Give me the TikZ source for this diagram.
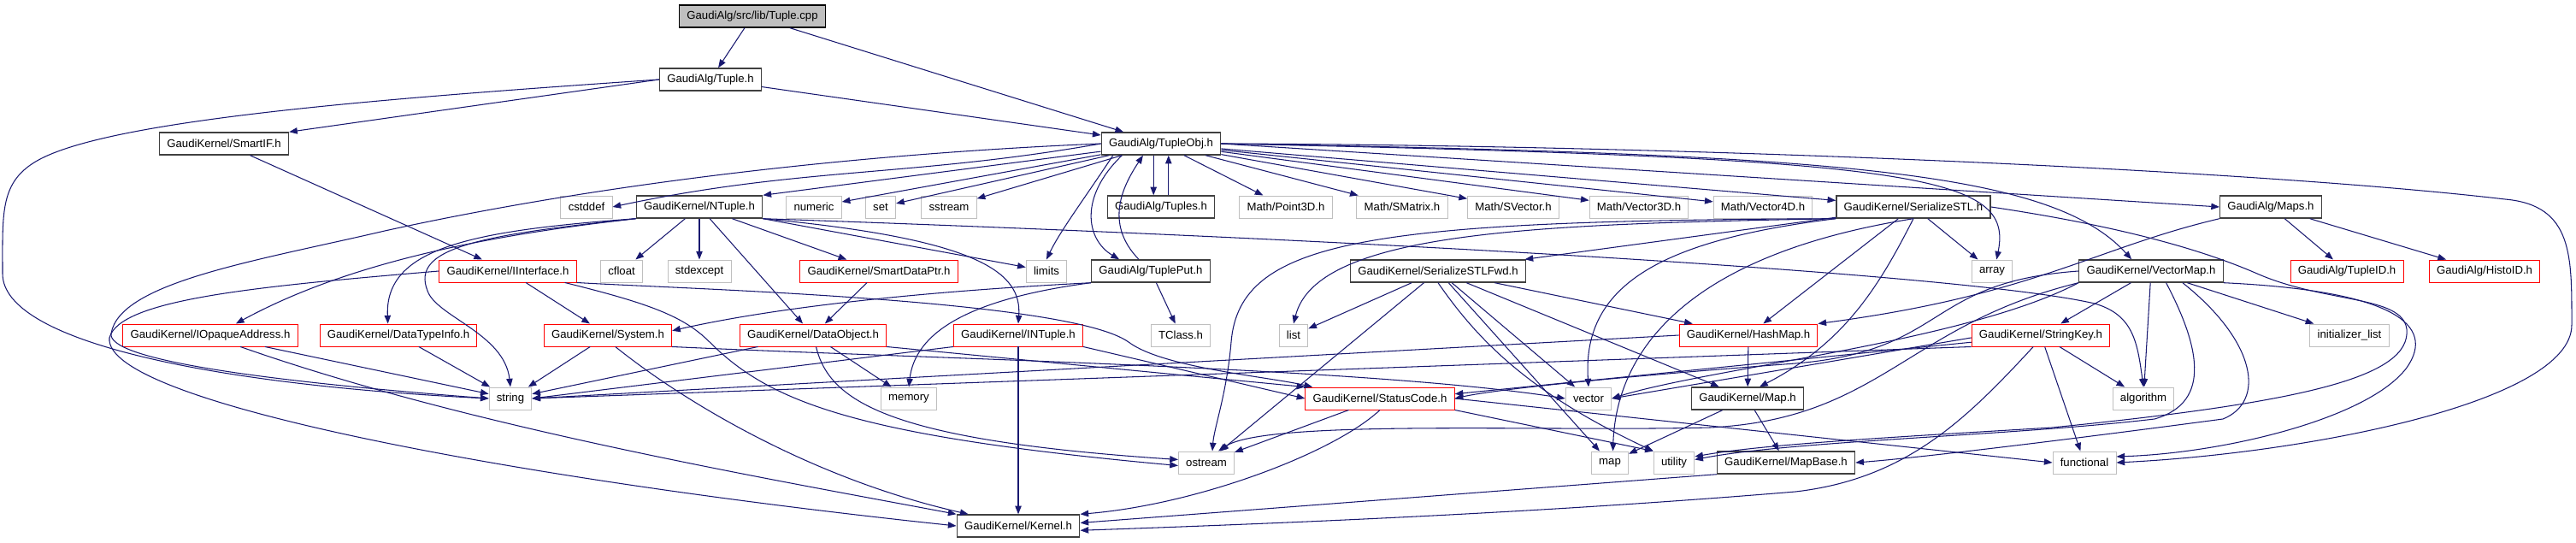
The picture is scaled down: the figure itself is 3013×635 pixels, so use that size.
\documentclass[tikz,border=0pt]{standalone}
\usepackage{fontspec}
\setmainfont{Liberation Sans}
\usetikzlibrary{arrows.meta}
\definecolor{edgeblue}{HTML}{191970}
\definecolor{boxgray}{HTML}{BFBFBF}
\definecolor{boxline}{HTML}{404040}
\begin{document}
\begin{tikzpicture}[x=0.02cm,y=-0.02cm,
    every node/.style={font=\fontsize{7.5}{8}\selectfont, minimum height=0.52cm, inner xsep=5pt, inner ysep=0pt, line width=0.55pt},
    doc/.style={draw=boxline, fill=white, line width=0.8pt},
    sys/.style={draw=boxgray, fill=white},
    trunc/.style={draw=red, fill=white},
    root/.style={draw=black, fill=boxgray, line width=0.8pt},
    dep/.style={draw=edgeblue, line width=0.6pt, -{Triangle[length=5.5pt,width=4.2pt]}}]
    \useasboundingbox (0,0) rectangle (3013,635);
    % rows of headers
    \node[root] (cpp) at (880,19) {GaudiAlg/src/lib/Tuple.cpp};
    \node[doc] (tupleh) at (831,93) {GaudiAlg/Tuple.h};
    \node[doc] (smartif) at (262,168) {GaudiKernel/SmartIF.h};
    \node[doc] (tupleobj) at (1358,168) {GaudiAlg/TupleObj.h};
    \node[sys] (cstddef) at (686,242) {cstddef};
    \node[doc] (ntuple) at (818,242) {GaudiKernel/NTuple.h};
    \node[sys] (numeric) at (952,242) {numeric};
    \node[sys] (set) at (1030,242) {set};
    \node[sys] (sstream) at (1110,242) {sstream};
    \node[doc] (tuples) at (1358,242) {GaudiAlg/Tuples.h};
    \node[sys] (point3d) at (1504,242) {Math/Point3D.h};
    \node[sys] (smatrix) at (1640,242) {Math/SMatrix.h};
    \node[sys] (svector) at (1770,242) {Math/SVector.h};
    \node[sys] (vector3d) at (1917,242) {Math/Vector3D.h};
    \node[sys] (vector4d) at (2062,242) {Math/Vector4D.h};
    \node[doc] (serstl) at (2238,242) {GaudiKernel/SerializeSTL.h};
    \node[doc] (maps) at (2656,242) {GaudiAlg/Maps.h};
    \node[trunc] (iface) at (594,317) {GaudiKernel/IInterface.h};
    \node[sys] (cfloat) at (727,317) {cfloat};
    \node[sys] (stdexcept) at (818,317) {stdexcept};
    \node[trunc] (smartptr) at (1028,317) {GaudiKernel/SmartDataPtr.h};
    \node[sys] (limits) at (1224,317) {limits};
    \node[doc] (tupleput) at (1346,317) {GaudiAlg/TuplePut.h};
    \node[doc] (serfwd) at (1682,317) {GaudiKernel/SerializeSTLFwd.h};
    \node[sys] (array) at (2330,317) {array};
    \node[doc] (vecmap) at (2516,317) {GaudiKernel/VectorMap.h};
    \node[trunc] (tupleid) at (2745,317) {GaudiAlg/TupleID.h};
    \node[trunc] (histoid) at (2906,317) {GaudiAlg/HistoID.h};
    \node[trunc] (opaque) at (246,392) {GaudiKernel/IOpaqueAddress.h};
    \node[trunc] (typeinfo) at (466,392) {GaudiKernel/DataTypeInfo.h};
    \node[trunc] (system) at (711,392) {GaudiKernel/System.h};
    \node[trunc] (dataobj) at (951,392) {GaudiKernel/DataObject.h};
    \node[trunc] (intuple) at (1191,392) {GaudiKernel/INTuple.h};
    \node[sys] (tclass) at (1381,392) {TClass.h};
    \node[sys] (list) at (1513,392) {list};
    \node[trunc] (hashmap) at (2045,392) {GaudiKernel/HashMap.h};
    \node[trunc] (strkey) at (2387,392) {GaudiKernel/StringKey.h};
    \node[sys] (initlist) at (2748,392) {initializer\_list};
    \node[sys] (string) at (597,466) {string};
    \node[sys] (memory) at (1063,466) {memory};
    \node[trunc] (status) at (1614,466) {GaudiKernel/StatusCode.h};
    \node[sys] (vector) at (1858,466) {vector};
    \node[doc] (mapx) at (2044,466) {GaudiKernel/Map.h};
    \node[sys] (algorithm) at (2507,466) {algorithm};
    \node[sys] (ostream) at (1411,541) {ostream};
    \node[sys] (map) at (1883,541) {map};
    \node[sys] (utility) at (1958,541) {utility};
    \node[doc] (mapbase) at (2089,541) {GaudiKernel/MapBase.h};
    \node[sys] (functional) at (2438,541) {functional};
    \node[doc] (kernel) at (1191,615) {GaudiKernel/Kernel.h};
    % Tuple.cpp and Tuple.h
    \draw[dep] (cpp) -- (tupleh);
    \draw[dep] (cpp) -- (tupleobj);
    \draw[dep] (tupleh) -- (tupleobj);
    \draw[dep] (tupleh.west) -- (smartif.north east);
    \draw[dep] (tupleh.west) .. controls (450,115) and (120,140) .. (40,190) .. controls (0,215) and (3,250) .. (3,320) .. controls (3,400) and (250,450) .. (string.west);
    \draw[dep] (smartif) -- (iface);
    % TupleObj.h
    \draw[dep] (tupleobj.west) to[out=190,in=12] (cstddef.east);
    \draw[dep] (tupleobj) -- (ntuple.north east);
    \draw[dep] (tupleobj) -- (numeric);
    \draw[dep] (tupleobj) -- (set);
    \draw[dep] (tupleobj) -- (sstream);
    \draw[dep] ([xshift=-5pt]tupleobj.south) -- ([xshift=-5pt]tuples.north);
    \draw[dep] ([xshift=5pt]tuples.north) -- ([xshift=5pt]tupleobj.south);
    \draw[dep] (tupleobj) -- (point3d);
    \draw[dep] (tupleobj) -- (smatrix);
    \draw[dep] (tupleobj) -- (svector);
    \draw[dep] (tupleobj) -- (vector3d);
    \draw[dep] (tupleobj) -- (vector4d);
    \draw[dep] (tupleobj) -- (serstl);
    \draw[dep] (tupleobj.east) -- (maps.west);
    \draw[dep] (tupleobj.east) .. controls (2250,185) and (2355,205) .. ([xshift=3pt]array.north);
    \draw[dep] (tupleobj.east) .. controls (2150,180) and (2400,200) .. ([xshift=-13pt]vecmap.north);
    \draw[dep] ([xshift=-32pt]tupleobj.south) .. controls (1270,230) and (1240,270) .. (limits.north);
    \draw[dep] ([xshift=-26pt]tupleobj.south) .. controls (1262,230) and (1270,280) .. ([xshift=-21pt]tupleput.north);
    \draw[dep] ([xshift=-8pt]tupleput.north) .. controls (1290,260) and (1315,215) .. ([xshift=-12pt]tupleobj.south);
    \draw[dep] (tupleobj.west) .. controls (1000,180) and (700,215) .. (450,270) .. controls (300,305) and (140,330) .. (130,390) .. controls (125,420) and (300,445) .. (string.west);
    \draw[dep] (tupleobj.east) .. controls (2000,170) and (2650,200) .. (2930,233) .. controls (3010,240) and (3008,300) .. (3008,380) .. controls (3008,470) and (2700,530) .. (functional.east);
    % TuplePut.h
    \draw[dep] (tupleput.south west) .. controls (1000,345) and (860,370) .. ([yshift=3pt]system.east);
    \draw[dep] (tupleput.south west) .. controls (1130,350) and (1070,390) .. (memory.north);
    \draw[dep] (tupleput) -- (tclass);
    % NTuple.h
    \draw[dep] (ntuple.south west) .. controls (600,272) and (420,300) .. ([xshift=17pt]opaque.north);
    \draw[dep] (ntuple.south west) .. controls (550,270) and (450,290) .. ([xshift=-7pt]typeinfo.north);
    \draw[dep] (ntuple.south west) .. controls (560,275) and (480,290) .. (500,340) .. controls (510,370) and (590,390) .. (string.north);
    \draw[dep] (ntuple) -- (cfloat);
    \draw[dep] (ntuple) -- (stdexcept);
    \draw[dep] (ntuple) -- (smartptr);
    \draw[dep] (ntuple) -- (dataobj);
    \draw[dep] (ntuple.south east) .. controls (1150,280) and (1195,320) .. (intuple.north);
    \draw[dep] (ntuple.south east) -- (limits);
    \draw[dep] (ntuple.south east) .. controls (1600,280) and (2300,320) .. (2450,355) .. controls (2495,368) and (2500,400) .. (algorithm.north);
    % IInterface.h
    \draw[dep] (iface) -- (system);
    \draw[dep] (iface.south east) .. controls (800,338) and (1250,350) .. (1320,400) .. controls (1360,430) and (1480,440) .. ([xshift=5pt]status.north west);
    \draw[dep] ([xshift=-8pt]iface.south east) .. controls (760,355) and (800,370) .. (830,400) .. controls (900,470) and (1000,510) .. ([yshift=-2pt]ostream.west);
    \draw[dep] (iface.west) .. controls (300,335) and (140,350) .. (128,395) .. controls (120,470) and (600,560) .. (kernel.west);
    % second level
    \draw[dep] (opaque) -- (string);
    \draw[dep] ([xshift=20pt]opaque.south) .. controls (550,500) and (900,560) .. (kernel.north west);
    \draw[dep] (typeinfo) -- (string);
    \draw[dep] (system) -- (string);
    \draw[dep] ([xshift=5pt]system.south) .. controls (800,470) and (950,560) .. ([xshift=8pt]kernel.north west);
    \draw[dep] (system.south east) .. controls (1100,420) and (1600,430) .. (vector.west);
    \draw[dep] (smartptr) -- (dataobj);
    \draw[dep] (dataobj) -- (string);
    \draw[dep] (dataobj) -- (memory);
    \draw[dep] ([xshift=2pt]dataobj.south) .. controls (970,470) and (1040,515) .. ([yshift=2pt]ostream.west);
    \draw[dep] (dataobj.south east) -- (status.north west);
    \draw[dep] (intuple) -- (kernel);
    \draw[dep] (intuple.south west) -- (string.east);
    \draw[dep] (intuple.south east) -- (status.west);
    \draw[dep] (hashmap.west) -- (string.east);
    \draw[dep] (hashmap) -- (mapx);
    % StatusCode.h
    \draw[dep] (status) -- (ostream);
    \draw[dep] (status.south east) -- (utility.north west);
    \draw[dep] (status.east) -- (functional.west);
    \draw[dep] (status.south) .. controls (1560,530) and (1400,590) .. (kernel.north east);
    % SerializeSTLFwd.h
    \draw[dep] (serfwd) -- (list);
    \draw[dep] (serfwd) -- (ostream);
    \draw[dep] (serfwd) -- (map);
    \draw[dep] (serfwd.south) .. controls (1730,400) and (1790,460) .. (utility.north west);
    \draw[dep] (serfwd) -- (vector);
    \draw[dep] (serfwd) -- (hashmap);
    \draw[dep] (serfwd) -- (mapx);
    % SerializeSTL.h
    \draw[dep] (serstl) -- (serfwd);
    \draw[dep] (serstl.south west) .. controls (1800,262) and (1540,270) .. (list.north);
    \draw[dep] (serstl.south west) .. controls (1600,258) and (1450,280) .. (1440,400) .. controls (1435,460) and (1420,500) .. ([xshift=4pt]ostream.north);
    \draw[dep] (serstl) -- (array);
    \draw[dep] (serstl) -- (hashmap);
    \draw[dep] (serstl.south) .. controls (2200,330) and (2160,400) .. ([xshift=8pt]mapx.north);
    \draw[dep] (serstl.south west) .. controls (1950,280) and (1850,330) .. (vector.north);
    \draw[dep] (serstl.south) .. controls (1960,300) and (1890,420) .. ([xshift=2pt]map.north);
    \draw[dep] (serstl.east) .. controls (2450,260) and (2560,285) .. (2640,320) .. controls (2720,355) and (2810,345) .. (2815,385) .. controls (2820,440) and (2700,470) .. (2400,500) .. controls (2200,512) and (2060,520) .. ([yshift=4pt]utility.east);
    % Maps.h
    \draw[dep] (maps) -- (tupleid);
    \draw[dep] (maps) -- (histoid);
    \draw[dep] (maps.south west) .. controls (2450,290) and (2380,345) .. (hashmap.north east);
    % VectorMap.h
    \draw[dep] (vecmap) -- (strkey);
    \draw[dep] (vecmap) -- (initlist);
    \draw[dep] (vecmap) -- (algorithm);
    \draw[dep] (vecmap.south west) .. controls (2300,400) and (2000,430) .. (vector.east);
    \draw[dep] (vecmap.west) .. controls (2250,330) and (2280,410) .. (2100,425) .. controls (1900,440) and (1750,455) .. (status.east);
    \draw[dep] (vecmap.south west) .. controls (2230,380) and (2200,490) .. (2000,500) .. controls (1800,505) and (1480,490) .. ([xshift=8pt]ostream.north);
    \draw[dep] ([xshift=10pt]vecmap.south) .. controls (2570,400) and (2590,470) .. (2520,490) .. controls (2350,510) and (2100,515) .. ([yshift=2pt]utility.east);
    \draw[dep] ([xshift=21pt]vecmap.south) .. controls (2640,400) and (2650,470) .. (2600,490) .. controls (2450,510) and (2250,535) .. (mapbase.east);
    \draw[dep] (vecmap.south east) .. controls (2800,340) and (2850,380) .. (2815,430) .. controls (2770,490) and (2600,530) .. ([yshift=4pt]functional.east);
    % StringKey.h
    \draw[dep] (strkey) -- (algorithm);
    \draw[dep] (strkey) -- (functional);
    \draw[dep] ([xshift=-5pt]strkey.south) .. controls (2300,490) and (2230,560) .. (2100,575) .. controls (1800,600) and (1500,612) .. ([yshift=-3pt]kernel.east);
    \draw[dep] (strkey.south west) -- (string.east);
    \draw[dep] ([yshift=3pt]strkey.south west) -- ([yshift=3pt]status.east);
    \draw[dep] ([yshift=6pt]strkey.south west) -- (vector.east);
    % Map.h and MapBase.h
    \draw[dep] (mapx) -- (map);
    \draw[dep] (mapx) -- (mapbase);
    \draw[dep] (mapbase.south west) -- ([yshift=2pt]kernel.east);
\end{tikzpicture}
\end{document}
